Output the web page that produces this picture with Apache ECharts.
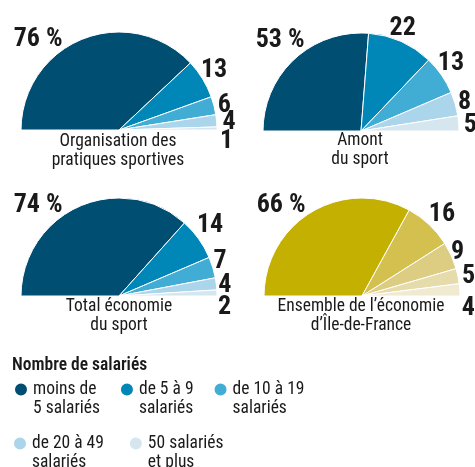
<!DOCTYPE html>
<html>
<head>
<meta charset="utf-8">
<script src="https://cdn.jsdelivr.net/npm/echarts@6/dist/echarts.min.js"></script>
<style>
  html, body { margin: 0; padding: 0; background: #fff; }
  #chart { width: 475px; height: 467px; }
</style>
</head>
<body>
<div id="chart"></div>
<script>
// tranches de taille (nombre de salariés)
const categories = ['moins de 5 salariés', 'de 5 à 9 salariés', 'de 10 à 19 salariés', 'de 20 à 49 salariés', '50 salariés et plus'];
const legendLabels = ['moins de\n5 salariés', 'de 5 à 9\nsalariés', 'de 10 à 19\nsalariés', 'de 20 à 49\nsalariés', '50 salariés\net plus'];

// parts en %
const organisation = [76, 13, 6, 4, 1];
const amont = [53, 22, 13, 8, 5];
const totalSport = [74, 14, 7, 4, 2];
const ileDeFrance = [66, 16, 9, 5, 4];

const pieTitles = ['Organisation des\npratiques sportives', 'Amont\ndu sport', 'Total économie\ndu sport', 'Ensemble de l\u2019économie\nd\u2019Île-de-France'];

const blues = ['#004f72', '#0087b7', '#41acd4', '#abd5ea', '#d5e6ef'];
const golds = ['#c4b000', '#d4c04f', '#dccd82', '#e6dbab', '#f0ead0'];

// petits décalages des étiquettes (dx, dy) par rapport à la position "outside"
const nudges = [
  [[0, 0], [-10, -6], [-5, 1], [-3, 2], [-6, 13]],
  [[0, 0], [-18, -9], [-12, -9], [-6, 0], [-4, 2]],
  [[0, 0], [-10, -11], [-8, -5], [-7, 2], [-8, 15]],
  [[0, 0], [-8, -7], [-9, -2], [-5, 1], [-7, 19]]
];

const FONT = 'Roboto';
const STRETCH = 'condensed';

const chart = echarts.init(document.getElementById('chart'));

function makePie(values, colors, center, idx) {
  return {
    type: 'pie',
    center: center,
    radius: [0, 98],
    startAngle: 180,
    endAngle: 0,
    clockwise: true,
    silent: true,
    avoidLabelOverlap: false,
    itemStyle: { borderColor: '#fff', borderWidth: 1 },
    label: {
      show: true,
      position: 'outside',
      distance: 3,
      fontFamily: FONT,
      fontStyle: STRETCH,
      fontSize: 26,
      fontWeight: 'bold',
      lineHeight: 20,
      color: '#1a1a1a',
      formatter: p => p.dataIndex === 0 ? p.value + ' %' : String(p.value)
    },
    labelLine: { show: false, length: 4, length2: 0 },
    labelLayout: function (p) {
      if (p.dataIndex === 0) {
        return { x: p.rect.x + 42, y: p.rect.y + 8, align: 'right', verticalAlign: 'middle' };
      }
      const n = nudges[idx][p.dataIndex];
      return { dx: n[0], dy: n[1] };
    },
    data: values.map((v, i) => ({ name: categories[i], value: v, itemStyle: { color: colors[i] } }))
  };
}

const centers = [[119, 130], [361, 131], [119, 296], [362, 296]];
const titlePos = [[118, 132], [360, 131], [119, 297], [361, 297]];

chart.setOption({
  animation: false,
  title: pieTitles.map((t, i) => ({
    text: t,
    left: titlePos[i][0],
    top: titlePos[i][1],
    textAlign: 'center',
    padding: 0,
    textStyle: { fontFamily: FONT, fontStyle: STRETCH, fontSize: 17.5, fontWeight: 'normal', lineHeight: 19, color: '#1a1a1a' }
  })).concat([{
    text: 'Nombre de salariés',
    left: 12,
    top: 356,
    padding: 0,
    textStyle: { fontFamily: FONT, fontStyle: STRETCH, fontSize: 17.5, fontWeight: 600, lineHeight: 20, color: '#1a1a1a' }
  }]),
  legend: [
    { data: categories.slice(0, 3), left: 13, top: 361, itemGap: 19 },
    { data: categories.slice(3), left: 12, top: 415, itemGap: 24 }
  ].map(l => Object.assign(l, {
    orient: 'horizontal',
    icon: 'circle',
    itemWidth: 14,
    itemHeight: 14,
    padding: 0,
    selectedMode: false,
    formatter: name => '\n' + legendLabels[categories.indexOf(name)],
    textStyle: { fontFamily: FONT, fontStyle: STRETCH, fontSize: 17.5, lineHeight: 19, color: '#1a1a1a' }
  })),
  series: [
    makePie(organisation, blues, centers[0], 0),
    makePie(amont, blues, centers[1], 1),
    makePie(totalSport, blues, centers[2], 2),
    makePie(ileDeFrance, golds, centers[3], 3)
  ]
});
</script>
</body>
</html>
